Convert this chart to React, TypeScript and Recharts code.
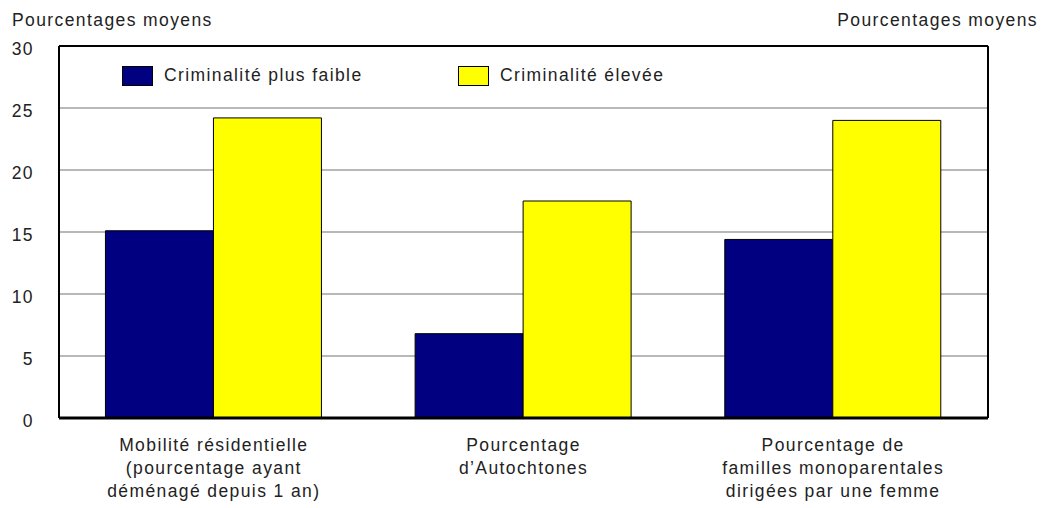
import React from "react";
import {
  BarChart, Bar, XAxis, YAxis, CartesianGrid, ReferenceLine,
} from "recharts";

const categories = [
  ["Mobilité résidentielle", "(pourcentage ayant", "déménagé depuis 1 an)"],
  ["Pourcentage", "d’Autochtones"],
  ["Pourcentage de", "familles monoparentales", "dirigées par une femme"],
];
const lowCrime = [15.1, 6.8, 14.4];
const highCrime = [24.2, 17.5, 24.0];
const yTicks = [0, 5, 10, 15, 20, 25, 30];
const seriesNames = ["Criminalité plus faible", "Criminalité élevée"];

const NAVY = "#000080";
const YELLOW = "#FFFF00";
const FONT = "'Liberation Sans Narrow', 'Liberation Sans', Arial, sans-serif";

const data = categories.map((lines, i) => ({
  name: lines.join(" "),
  low: lowCrime[i],
  high: highCrime[i],
}));

const textStyle: React.CSSProperties = {
  fontFamily: FONT,
  fontSize: 17.5,
  letterSpacing: 1.4,
  fill: "#222",
};

function LeftTick(props: any) {
  const { y, payload } = props;
  return (
    <text x={26} y={y + 9} textAnchor="end" style={textStyle}>
      {payload.value}
    </text>
  );
}

function RightTick(props: any) {
  const { y, payload } = props;
  return (
    <text x={1029} y={y + 9} textAnchor="end" style={textStyle}>
      {payload.value}
    </text>
  );
}

function CatTick(props: any) {
  const { x, y, index } = props;
  const lines = categories[index] || [];
  return (
    <g>
      {lines.map((l, k) => (
        <text key={k} x={x} y={y + 27 + k * 23} textAnchor="middle" style={textStyle}>
          {l}
        </text>
      ))}
    </g>
  );
}

const htmlText: React.CSSProperties = {
  fontFamily: FONT,
  fontSize: 17.5,
  letterSpacing: 1.4,
  color: "#222",
  whiteSpace: "nowrap",
};

function LegendBox() {
  const item = (color: string, label: string, w: number) => (
    <div style={{ display: "flex", alignItems: "center", width: w }}>
      <div
        style={{
          width: 29,
          height: 18,
          background: color,
          border: "1.5px solid #000",
          marginRight: 11,
        }}
      />
      <span style={htmlText}>{label}</span>
    </div>
  );
  return (
    <div style={{ position: "absolute", top: 57, left: 114, display: "flex" }}>
      {item(NAVY, seriesNames[0], 336)}
      {item(YELLOW, seriesNames[1], 250)}
    </div>
  );
}

export default function App() {
  return (
    <div style={{ position: "relative", width: 1040, height: 500 }}>
      <div style={{ ...htmlText, position: "absolute", top: 2, left: 4 }}>Pourcentages moyens</div>
      <div style={{ ...htmlText, position: "absolute", top: 2, right: 10 }}>Pourcentages moyens</div>
      <BarChart
        width={1040}
        height={500}
        data={data}
        margin={{ top: 38, right: 0, left: 0, bottom: 8 }}
        barCategoryGap="15%"
        barGap={0}
      >
        <CartesianGrid vertical={false} stroke="#a0a0a0" strokeWidth={1.5} yAxisId="left" />
        <XAxis
          dataKey="name"
          height={82}
          tickLine={false}
          axisLine={{ stroke: "#000", strokeWidth: 3 }}
          tickMargin={0}
          interval={0}
          tick={<CatTick />}
        />
        <YAxis
          yAxisId="left"
          width={51}
          domain={[0, 30]}
          ticks={yTicks}
          tickLine={false}
          axisLine={{ stroke: "#000", strokeWidth: 2 }}
          tick={<LeftTick />}
        />
        <YAxis
          yAxisId="right"
          orientation="right"
          width={60}
          domain={[0, 30]}
          ticks={yTicks}
          tickLine={false}
          axisLine={{ stroke: "#000", strokeWidth: 2 }}
          tick={<RightTick />}
        />
        <ReferenceLine yAxisId="left" y={30} stroke="#000" strokeWidth={2} />
        <Bar yAxisId="left" dataKey="low" name={seriesNames[0]} fill={NAVY} stroke="#000" strokeWidth={1} isAnimationActive={false} />
        <Bar yAxisId="left" dataKey="high" name={seriesNames[1]} fill={YELLOW} stroke="#000" strokeWidth={1} isAnimationActive={false} />
      </BarChart>
      <LegendBox />
    </div>
  );
}
